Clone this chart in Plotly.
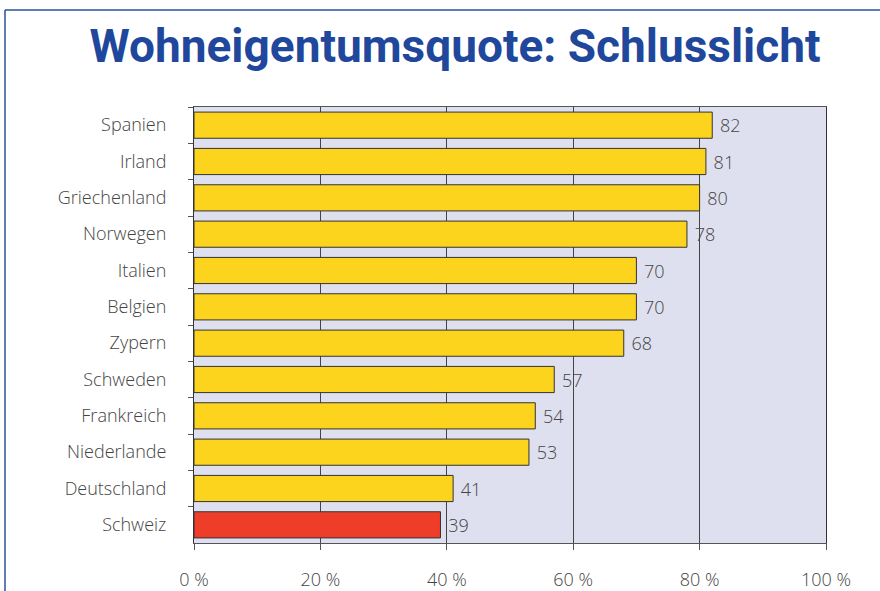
import plotly.graph_objects as go

countries = ["Spanien", "Irland", "Griechenland", "Norwegen", "Italien", "Belgien",
             "Zypern", "Schweden", "Frankreich", "Niederlande", "Deutschland", "Schweiz"]
values = [82, 81, 80, 78, 70, 70, 68, 57, 54, 53, 41, 39]
x_ticks = [0, 20, 40, 60, 80, 100]
x_tick_labels = ["0 %", "20 %", "40 %", "60 %", "80 %", "100 %"]

colors = ["#FCD41E"] * (len(countries) - 1) + ["#EE3E2A"]

W, H = 880, 591
L, R, T, B = 194, 54, 107, 48
pw, ph = W - L - R, H - T - B

fig = go.Figure(go.Bar(
    y=countries, x=values, orientation="h",
    marker=dict(color=colors, line=dict(color="#333333", width=1)),
    width=0.72,
    text=[str(v) for v in values],
    texttemplate="\u00a0%{text}", textposition="outside",
    textfont=dict(family="Open Sans", size=18, color="#444444", weight=300),
    cliponaxis=False, hoverinfo="skip",
))

def px_x(p):
    return (p - L) / pw

def px_y(p):
    return 1 - (p - T) / ph

border = "#2B4FA0"
fig.add_shape(type="line", xref="paper", yref="paper",
              x0=px_x(5), x1=px_x(880), y0=px_y(10), y1=px_y(10),
              line=dict(color=border, width=1.5))
fig.add_shape(type="line", xref="paper", yref="paper",
              x0=px_x(5), x1=px_x(5), y0=px_y(10), y1=px_y(591),
              line=dict(color=border, width=1.5))

fig.update_layout(
    width=W, height=H,
    margin=dict(l=L, r=R, t=T, b=B, autoexpand=False),
    paper_bgcolor="white", plot_bgcolor="#DFE0EF",
    showlegend=False, hovermode=False,
    title=dict(text="Wohneigentumsquote: Schlusslicht",
               x=455 / W, xanchor="center", y=1 - 46 / H, yanchor="middle",
               font=dict(family="Roboto", size=46, color="#1F479C", weight=700)),
    font=dict(family="Open Sans", size=18, color="#444444", weight=300),
    bargap=0.28,
)
fig.update_xaxes(range=[0, 100], tickvals=x_ticks, ticktext=x_tick_labels,
                 showgrid=True, gridcolor="#444444", gridwidth=1,
                 showline=True, linecolor="#555555", linewidth=1, mirror=True,
                 ticks="outside", ticklen=6, tickcolor="#555555",
                 ticklabelstandoff=14, zeroline=False, fixedrange=True, automargin=False)
fig.update_yaxes(autorange="reversed", showgrid=False,
                 showline=True, linecolor="#333333", linewidth=1, mirror=True,
                 ticks="outside", ticklen=5, tickcolor="#555555", tickson="boundaries",
                 ticklabelstandoff=23, fixedrange=True, automargin=False)

fig.write_html("out.html", config={"displayModeBar": False, "staticPlot": True},
               post_script="document.body.style.margin='0';document.body.style.padding='0';")
